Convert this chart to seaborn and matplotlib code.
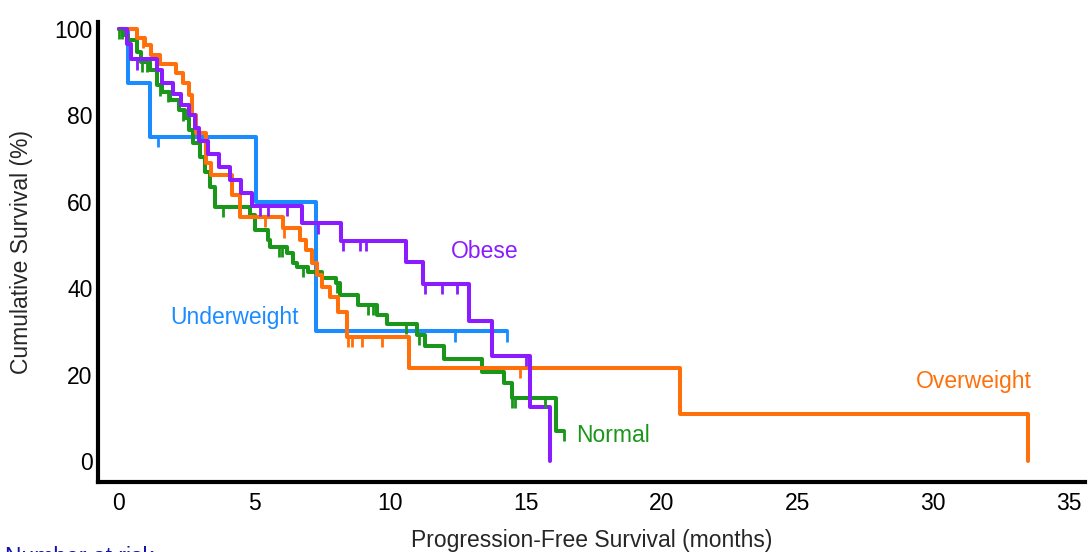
import numpy as np
import pandas as pd
import matplotlib
matplotlib.use("Agg")
import matplotlib.pyplot as plt
import seaborn as sns

# ---- data ----
groups = ["Underweight", "Normal", "Overweight", "Obese"]

under_t = [0, 0.33, 1.15, 5.05, 7.25, 14.3]
under_s = [100, 87.5, 75, 60, 30, 30]
under_c = [1.45, 12.4, 14.3]

normal_t = [0, 0.15, 0.33, 0.65, 0.83, 1.15, 1.4, 1.6, 1.9, 2.2,
            2.45, 2.6, 2.73, 2.98, 3.17, 3.35, 3.54, 4.83, 5.0, 5.5,
            5.57, 6.2, 6.4, 6.55, 6.97, 7.5, 8.0, 8.15, 8.8, 9.5,
            9.9, 11.0, 11.3, 12.0, 13.4, 14.2, 14.5, 16.1, 16.4]
normal_s = [100, 98.6, 97.4, 94.7, 92.4, 90.5, 87, 85.4, 83.6, 81.2,
            79.4, 76.5, 73.6, 70.4, 66.9, 63.4, 58.8, 57, 53.5, 51.2,
            49.5, 48.1, 45.8, 45, 43.8, 42.4, 41.2, 38.4, 36.1, 33.8,
            31.7, 29.2, 26.6, 23.6, 20.6, 18.1, 14.6, 6.9, 6.9]
normal_c = [0.0, 0.1, 0.85, 1.05, 1.5, 1.8, 2.35, 3.85, 5.9, 6.0, 6.8,
            8.05, 9.2, 9.35, 10.6, 11.05, 14.5, 14.6, 15.7, 16.4]

over_t = [0, 0.65, 0.95, 1.2, 1.5, 2.1, 2.37, 2.6, 2.7, 2.85,
          3.2, 3.4, 4.17, 4.45, 6.05, 6.67, 6.9, 7.1, 7.3, 7.5,
          7.8, 8.07, 8.4, 10.7, 20.7, 33.5]
over_s = [100, 98, 96.3, 94, 92, 89.8, 87.5, 84.7, 80, 76,
          69, 66.2, 61.6, 56.5, 53.9, 51.2, 48.8, 45.8, 43, 40.3,
          38, 34.5, 28.7, 21.5, 10.8, 0]
over_c = [0.9, 5.4, 6.1, 8.45, 8.6, 8.95, 9.7, 14.8]

obese_t = [0, 0.3, 0.45, 1.4, 1.6, 2.0, 2.3, 2.6, 2.8, 2.95, 3.3, 3.7,
           4.1, 4.5, 4.9, 6.75, 8.2, 10.6, 11.2, 12.9, 13.75, 15.15, 15.9]
obese_s = [100, 96.5, 93, 90.5, 87.5, 85, 82.5, 80, 77, 74, 71, 68,
           65, 62, 59, 55, 51, 46, 41, 32.5, 24.3, 12.5, 0]
obese_c = [0.66, 2.25, 5.2, 5.5, 6.2, 7.35, 8.25, 8.9, 9.1, 11.3, 11.9,
           12.45, 15.0]

x_ticks = [0, 5, 10, 15, 20, 25, 30, 35]
y_ticks = [0, 20, 40, 60, 80, 100]

colors = {"Underweight": "#1a8cff", "Normal": "#1a961a",
          "Overweight": "#ff6f0a", "Obese": "#8a1cff"}

curves = {"Underweight": (under_t, under_s, under_c),
          "Normal": (normal_t, normal_s, normal_c),
          "Overweight": (over_t, over_s, over_c),
          "Obese": (obese_t, obese_s, obese_c)}

label_pos = {"Underweight": (4.25, 33.3), "Obese": (13.5, 48.5),
             "Overweight": (31.5, 18.5), "Normal": (18.2, 5.8)}

rows = []
for g in groups:
    t, s, _ = curves[g]
    for ti, si in zip(t, s):
        rows.append({"group": g, "time": ti, "surv": si})
df = pd.DataFrame(rows)

# ---- plot ----
sns.set_theme(style="white")
plt.rcParams["font.family"] = ["Liberation Sans", "DejaVu Sans"]

fig = plt.figure(figsize=(10.89, 5.52), dpi=100)
ax = fig.add_axes([0.09, 0.127, 0.906, 0.833])

sns.lineplot(data=df, x="time", y="surv", hue="group", palette=colors,
             estimator=None, sort=False, drawstyle="steps-post",
             linewidth=2.9, legend=False, ax=ax)

for g in groups:
    t, s, c = curves[g]
    t = np.asarray(t)
    s = np.asarray(s)
    idx = np.searchsorted(t, c, side="right") - 1
    ys = s[idx]
    ax.vlines(c, ys - 2.4, ys, colors=colors[g], linewidth=2.0, zorder=3)
    lx, ly = label_pos[g]
    ax.text(lx, ly, g, color=colors[g], fontsize=16.5, ha="center", va="center")

ax.set_xlim(-0.77, 35.6)
ax.set_ylim(-4.86, 101.6)
ax.set_xticks(x_ticks)
ax.set_yticks(y_ticks)
ax.tick_params(direction="in", length=8, width=1.8, color="#404040",
               labelsize=16.5, labelcolor="black")
ax.tick_params(axis="y", pad=4)
ax.tick_params(axis="x", pad=7)
for side in ["top", "right"]:
    ax.spines[side].set_visible(False)
for side in ["left", "bottom"]:
    ax.spines[side].set_color("black")
    ax.spines[side].set_linewidth(3)
ax.set_xlabel("Progression-Free Survival (months)", fontsize=16.5, labelpad=10)
ax.set_ylabel("Cumulative Survival (%)", fontsize=16.5, labelpad=15)

fig.text(0.005, 0.011, "Number at risk", color="#1414a8", fontsize=16.5,
         ha="left", va="top")

fig.savefig("out.png", dpi=100)
